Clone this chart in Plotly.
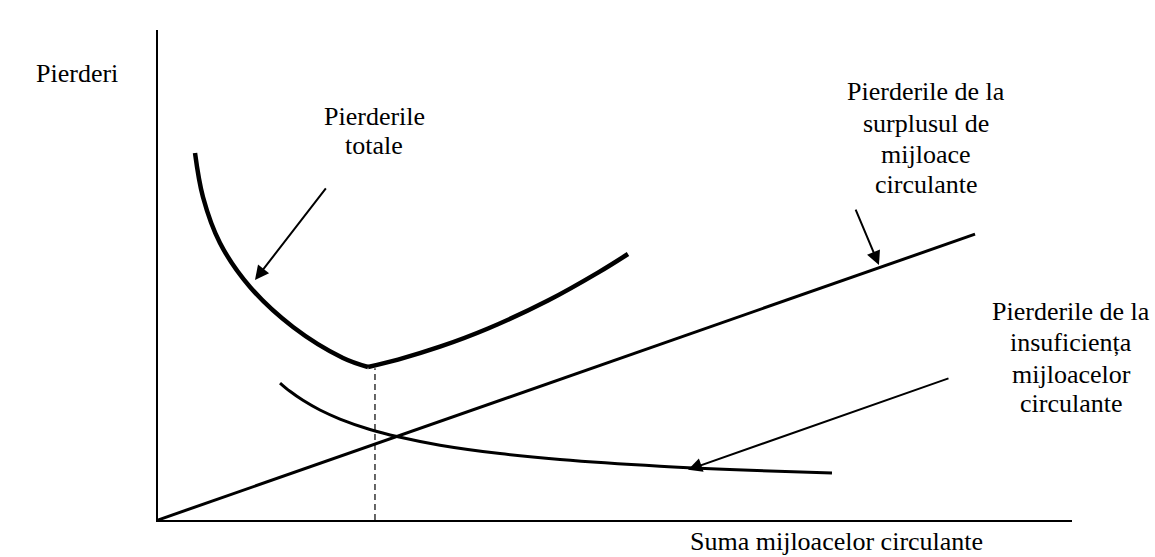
import plotly.graph_objects as go

# ---- data (arbitrary units; 0..100 spans the lower part of the plot) ----
total_left_x = [4.05, 4.92, 6.78, 10.07, 14.77, 20.24, 22.98]
total_left_y = [76.14, 67.01, 57.47, 48.34, 40.04, 33.61, 31.74]
total_right_x = [22.98, 26.26, 30.85, 36.11, 42.67, 48.14, 51.42]
total_right_y = [31.74, 33.28, 35.95, 39.73, 45.54, 51.33, 55.19]

surplus_x = [0.0, 89.39]
surplus_y = [0.0, 59.3]

shortage_x = [13.35, 14.44, 15.86, 17.72, 19.91, 23.19, 26.26, 30.85, 37.42, 43.98, 54.92, 64.77, 73.74]
shortage_y = [28.42, 26.70, 24.83, 22.82, 20.95, 18.78, 17.26, 15.52, 13.78, 12.55, 11.16, 10.31, 9.75]

optimum_x = [23.74, 23.74]
optimum_y = [0.0, 31.5]

# arrows: tail -> head
arrow_tail_x = [18.49, 76.26, 86.65]
arrow_tail_y = [69.1, 64.7, 29.5]
arrow_head_x = [10.61, 78.88, 57.99]
arrow_head_y = [49.8, 52.9, 10.4]

# labels
y_title = "Pierderi"
x_title = "Suma mijloacelor circulante"
label_total = ["Pierderile", "totale"]
label_surplus = ["Pierderile de la", "surplusul de", "mijloace", "circulante"]
label_shortage = ["Pierderile de la", "insuficiența", "mijloacelor", "circulante"]

# ---- layout geometry ----
W, H = 1155, 557
ML, MR, MT, MB = 158, 83, 30, 37
PW, PH = W - ML - MR, H - MT - MB
YUNIT = 4.82  # pixels per y unit
FONT = "Times New Roman, Liberation Serif, serif"
FS = 26


def paper(px, py):
    return (px - ML) / PW, (H - MB - py) / PH


fig = go.Figure()
for xs, ys in ((total_left_x, total_left_y), (total_right_x, total_right_y)):
    fig.add_trace(go.Scatter(x=xs, y=ys, mode="lines",
                             line=dict(color="black", width=4.5, shape="spline", smoothing=1.0),
                             hoverinfo="skip"))
fig.add_trace(go.Scatter(x=surplus_x, y=surplus_y, mode="lines",
                         line=dict(color="black", width=3), hoverinfo="skip"))
fig.add_trace(go.Scatter(x=shortage_x, y=shortage_y, mode="lines",
                         line=dict(color="black", width=3, shape="spline", smoothing=1.0),
                         hoverinfo="skip"))
fig.add_trace(go.Scatter(x=optimum_x, y=optimum_y, mode="lines",
                         line=dict(color="black", width=1.2, dash="6px,4px"),
                         hoverinfo="skip"))

annotations = []
for tx, ty, hx, hy in zip(arrow_tail_x, arrow_tail_y, arrow_head_x, arrow_head_y):
    annotations.append(dict(x=hx, y=hy, ax=tx, ay=ty, xref="x", yref="y",
                            axref="x", ayref="y", text="", showarrow=True,
                            arrowhead=2, arrowsize=1.4, arrowwidth=2, arrowcolor="black",
                            standoff=0, startstandoff=0))


def add_lines(lines, cx, baselines, anchor="center"):
    for t, b in zip(lines, baselines):
        xp, yp = paper(cx, b - 6)
        annotations.append(dict(text=t, x=xp, y=yp, xref="paper", yref="paper",
                                xanchor=anchor, yanchor="middle", showarrow=False,
                                font=dict(family=FONT, size=FS, color="black")))


add_lines([y_title], 77, [80])
add_lines(label_total, 374, [122, 152])
add_lines(label_surplus, 926, [98, 129, 160, 190])
add_lines(label_shortage, 1071, [317, 348, 380, 409])
add_lines([x_title], 985, [547], anchor="right")

fig.update_layout(
    width=W, height=H, autosize=False,
    margin=dict(l=ML, r=MR, t=MT, b=MB, pad=0),
    paper_bgcolor="white", plot_bgcolor="white",
    showlegend=False,
    annotations=annotations,
    xaxis=dict(range=[0, 100], showgrid=False, zeroline=False, showticklabels=False,
               ticks="", showline=True, linecolor="black", linewidth=1.5, mirror=False,
               fixedrange=True),
    yaxis=dict(range=[0, PH / YUNIT], showgrid=False, zeroline=False, showticklabels=False,
               ticks="", showline=True, linecolor="black", linewidth=1.5, mirror=False,
               fixedrange=True),
)

fig.write_html("out.html", config=dict(displayModeBar=False),
               post_script="document.body.style.margin='0';document.body.style.overflow='hidden';")
